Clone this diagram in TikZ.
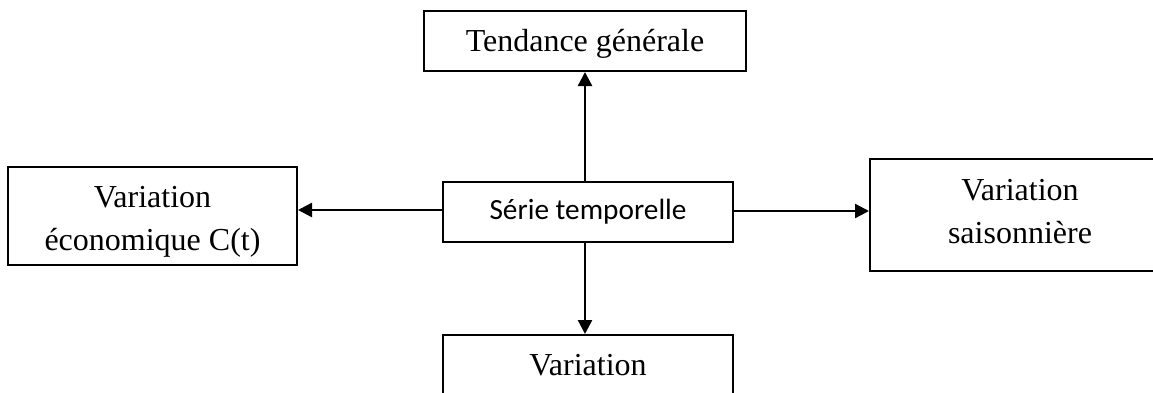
\documentclass[tikz,border=0pt]{standalone}
\usepackage{fontspec}
\setmainfont{Liberation Serif}
\newfontfamily\bodysans{Carlito}
\usetikzlibrary{arrows.meta}
\begin{document}
\begin{tikzpicture}[x=1pt,y=1pt,
  box/.style={draw=black,line width=2pt,inner sep=0pt,align=center,
    font=\fontsize{32}{43}\selectfont},
  lbl/.style={font=\fontsize{32}{43}\selectfont,align=center,inner sep=0pt},
  link/.style={line width=2.4pt,-{Triangle[length=14pt,width=14pt]}}]
\useasboundingbox (0,0) rectangle (1153,392);
\clip (0,0) rectangle (1153,392);
% central box
\node[box,minimum width=290pt,minimum height=60pt,
  font=\bodysans\fontsize{29.3}{36}\selectfont] (c) at (588,180) {Série temporelle};
% surrounding boxes
\node[box,minimum width=322pt,minimum height=60pt,
  label={[lbl,yshift=-3pt]center:Tendance générale}] (t) at (585,351) {};
\node[box,minimum width=289pt,minimum height=98pt,
  label={[lbl,yshift=-6pt]center:Variation\\économique C(t)}] (l) at (152.5,176) {};
\node[box,minimum width=300pt,minimum height=112pt,
  label={[lbl,yshift=3pt]center:Variation\\saisonnière}] (r) at (1020,177) {};
\node[box,minimum width=290pt,minimum height=110pt] (b) at (588,2) {};
\node[lbl,anchor=base] (bt) at (588,17) {Variation};
% connectors
\draw[link] ([xshift=-3pt]c.north) -- ([xshift=-3pt]c.north |- t.south);
\draw[link] ([xshift=-3pt]c.south) -- ([xshift=-3pt]c.south |- b.north);
\draw[link] ([yshift=2pt]c.west) -- ([yshift=2pt]c.west -| l.east);
\draw[link] ([yshift=1pt]c.east) -- ([yshift=1pt]c.east -| r.west);
\end{tikzpicture}
\end{document}
